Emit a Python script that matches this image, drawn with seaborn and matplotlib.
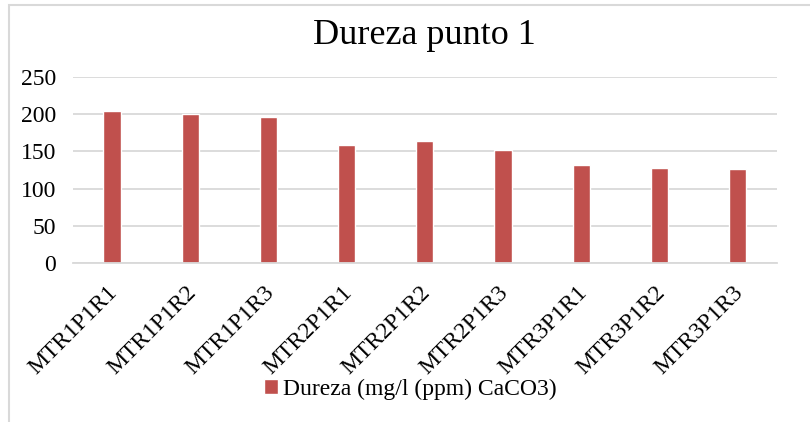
import matplotlib
matplotlib.use("Agg")
import matplotlib.pyplot as plt
import matplotlib.transforms as mtransforms
import seaborn as sns
import pandas as pd
from matplotlib.patches import Rectangle

categories = ["MTR1P1R1", "MTR1P1R2", "MTR1P1R3", "MTR2P1R1", "MTR2P1R2",
              "MTR2P1R3", "MTR3P1R1", "MTR3P1R2", "MTR3P1R3"]
values = [204, 200, 196, 158, 164, 152, 132, 128, 126]
series_name = "Dureza (mg/l (ppm) CaCO3)"
title = "Dureza punto 1"
yticks = [0, 50, 100, 150, 200, 250]

sns.set_theme(style="white")
plt.rcParams["font.family"] = ["Liberation Serif", "DejaVu Serif"]
plt.rcParams["text.color"] = "black"

df = pd.DataFrame({"cat": categories, "val": values})

fig = plt.figure(figsize=(8.1, 4.22), dpi=100)
ax = fig.add_axes([73/810, 1-263.3/422, (776.7-73)/810, (263.3-76.7)/422])

sns.barplot(data=df, x="cat", y="val", color="#C0504D", width=0.22,
            saturation=1, ax=ax, label=series_name)

ax.set_ylim(0, 250)
ax.set_xlim(-0.5, len(categories)-0.5)
ax.set_yticks(yticks)
ax.set_yticklabels([str(t) for t in yticks], fontsize=17, color="black")
ax.set_xticks(range(len(categories)))
ax.set_xticklabels(categories, rotation=45, ha="right", va="top",
                   rotation_mode="anchor", fontsize=17, color="black")
ax.tick_params(axis="both", length=0)
ax.tick_params(axis="x", pad=6)
ax.tick_params(axis="y", pad=12)
offset = mtransforms.ScaledTranslation(-5/100, -10/100, fig.dpi_scale_trans)
for lab in ax.get_xticklabels():
    lab.set_transform(lab.get_transform() + offset)
ax.set_xlabel("")
ax.set_ylabel("")
ax.yaxis.grid(True, color="#D9D9D9", linewidth=1.3)
ax.set_axisbelow(True)
for s in ["top", "right", "left"]:
    ax.spines[s].set_visible(False)
ax.spines["bottom"].set_color("#D9D9D9")
ax.spines["bottom"].set_linewidth(1.3)
if ax.get_legend() is not None:
    ax.get_legend().remove()

fig.text(424/810, 1-36/422, title, ha="center", va="center", fontsize=26, color="black")

handles, labels = ax.get_legend_handles_labels()
leg = fig.legend(handles[:1], [series_name], loc="center", bbox_to_anchor=(410/810, 1-389/422),
                 frameon=False, fontsize=17, handlelength=0.6, handleheight=0.6,
                 handletextpad=0.2, borderpad=0, labelcolor="black")

fig.patches.append(Rectangle((9/810, -0.1), 1.2, 1.1 - 5/422, transform=fig.transFigure,
                             fill=False, edgecolor="#D9D9D9", linewidth=1.5))

fig.savefig("out.png", dpi=100)
